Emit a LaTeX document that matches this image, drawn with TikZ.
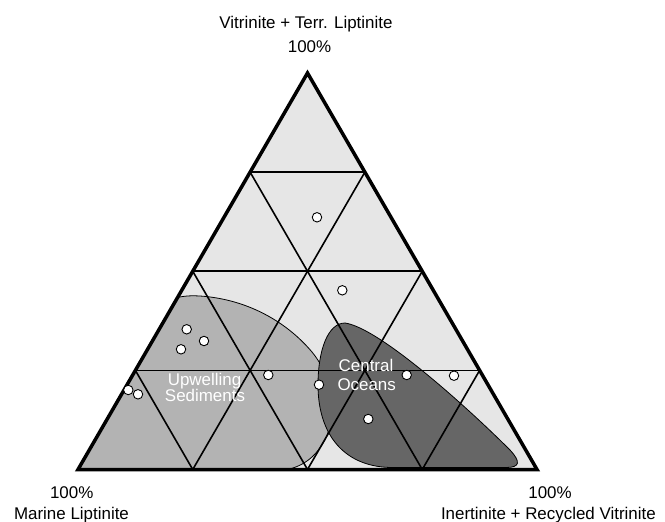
\documentclass[tikz,border=0pt]{standalone}
\usepackage{fontspec}
\setmainfont{Liberation Sans}
\usetikzlibrary{calc}
\definecolor{bgfill}{HTML}{E6E6E6}
\definecolor{upfill}{HTML}{B3B3B3}
\definecolor{cofill}{HTML}{666666}
\begin{document}
\begin{tikzpicture}[x=1bp,y=-1bp,
  gridline/.style={line width=1.6bp},
  outline/.style={line width=3.5bp, line join=miter},
  blobline/.style={line width=0.8bp},
  sample/.style={circle, draw=black, fill=white, line width=0.9bp, minimum size=9.5bp, inner sep=0pt},
  lbl/.style={font=\fontsize{17}{20}\selectfont, inner sep=0pt, anchor=base},
  blobtxt/.style={lbl, text=white}]
\useasboundingbox (0,0) rectangle (665,522);
\coordinate (A) at (78,469.5);
\coordinate (B) at (537,469.5);
\coordinate (C) at (307.5,73);
\fill[bgfill] (A)--(B)--(C)--cycle;
\begin{scope}
  \clip (A)--(B)--(C)--cycle;
  \draw[blobline, fill=upfill] (150,310) .. controls (168,297) and (185,295) .. (200,296)
    .. controls (245,299) and (285,320) .. (312,352)
    .. controls (335,380) and (338,420) .. (322,445)
    .. controls (312,460) and (300,468) .. (280,471)
    -- (280,485) -- (50,485) -- (50,310) -- cycle;
  \draw[blobline, fill=cofill] (345,323) .. controls (380,328) and (470,410) .. (510,450)
    .. controls (521,462) and (520,467.5) .. (506,467.5)
    -- (390,467.5) .. controls (340,466) and (318,430) .. (318,385)
    .. controls (318,350) and (328,323) .. (345,323) -- cycle;
\end{scope}
\foreach \k in {1,2,3} {
  \draw[gridline] ($(A)!\k/4!(C)$) -- ($(B)!\k/4!(C)$);
  \draw[gridline] ($(A)!\k/4!(B)$) -- ($(C)!\k/4!(B)$);
  \draw[gridline] ($(B)!\k/4!(A)$) -- ($(C)!\k/4!(A)$);
}
\draw[outline] (A)--(B)--(C)--cycle;
\node[sample] (s1) at (317,217.3) {};
\node[sample] (s2) at (342.3,290.3) {};
\node[sample] (s3) at (186.7,329.3) {};
\node[sample] (s4) at (204,341) {};
\node[sample] (s5) at (181,349.3) {};
\node[sample] (s6) at (128.3,390) {};
\node[sample] (s7) at (138,394.3) {};
\node[sample] (s8) at (268.3,375) {};
\node[sample] (s9) at (319,384.7) {};
\node[sample] (s10) at (406.7,375) {};
\node[sample] (s11) at (454,375.7) {};
\node[sample] (s12) at (368.3,419) {};
\node[blobtxt] (up1) at (204.5,385) {Upwelling};
\node[blobtxt] (up2) at (205,401.7) {Sediments};
\node[blobtxt] (co1) at (366,371.7) {Central};
\node[blobtxt] (co2) at (366.7,390) {Oceans};
\node[lbl] (top1) at (306,28.5) {Vitrinite + Terr. Liptinite};
\node[lbl] (top2) at (309.5,52.3) {100\%};
\node[lbl] (bl1) at (71.7,498) {100\%};
\node[lbl] (bl2) at (71.5,519.7) {Marine Liptinite};
\node[lbl] (br1) at (550,498) {100\%};
\node[lbl] (br2) at (548.4,519.7) {Inertinite + Recycled Vitrinite};
\end{tikzpicture}
\end{document}
